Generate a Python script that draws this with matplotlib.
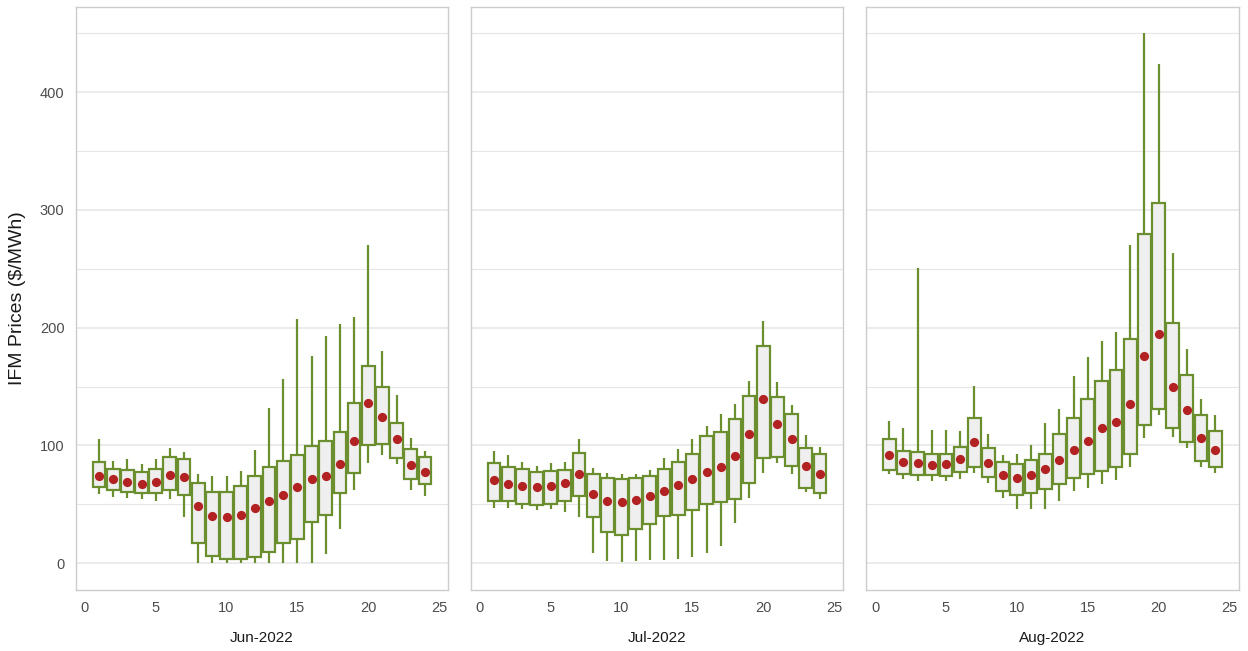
import matplotlib
matplotlib.use("Agg")
import matplotlib.pyplot as plt
import numpy as np

plt.rcParams['font.family'] = ['Liberation Sans', 'DejaVu Sans']

hours = list(range(1, 25))
months = ["Jun-2022", "Jul-2022", "Aug-2022"]

# Jun-2022
jun_whislo = [59, 56, 55, 54, 53, 54, 39, 0, 0, 0, 0, 0, 0, 0, 0, 0, 8, 29, 62, 85, 92, 84, 62, 57]
jun_q1 = [65, 62, 60, 59.5, 59.5, 62, 58, 17, 5.7, 3.7, 3.4, 5, 9, 17, 20, 35, 41, 59.5, 76.5, 100.6, 101, 89, 71, 67]
jun_mean = [74, 71, 68.5, 67.5, 69, 75, 73, 48.7, 40, 39, 41, 46.5, 53, 58, 64.6, 71, 74, 84.4, 104, 136, 124, 105.7, 83.6, 77]
jun_q3 = [85.5, 80, 79, 77.6, 80, 90, 88, 68, 60, 60, 65.7, 74, 82, 87, 92, 99.7, 104, 111, 136, 167.7, 150, 119, 97, 90]
jun_whishi = [105, 87, 88, 84, 88, 98, 94, 76, 74, 74, 78, 96, 132, 156, 207, 176, 193, 203, 209, 270.5, 180, 143, 106, 95]

# Jul-2022
jul_whislo = [47, 47, 46, 45, 46, 43.6, 39.4, 8.8, 1.7, 0.6, 1.7, 2.5, 2.5, 3, 5.4, 8.8, 14.4, 34.3, 55, 76.5, 84.7, 75.6, 60, 54]
jul_q1 = [53, 52.7, 50, 49.3, 50, 52.7, 57, 38.8, 26.6, 24, 29, 33, 40, 40.8, 45, 50, 51.6, 54.4, 67.7, 89, 90, 82.7, 63.5, 59.8]
jul_mean = [70.5, 67, 65.7, 64.3, 65.4, 67.7, 76, 59, 53, 52, 53.5, 57, 61, 66, 71.4, 77.6, 82, 91, 110, 139, 118.4, 105, 82.4, 75.4]
jul_q3 = [85, 82, 80, 77, 78.5, 79, 93.8, 76, 72.5, 71, 72.5, 74, 79.6, 86, 93, 108, 111, 122, 142, 184, 141, 127, 97.5, 93]
jul_whishi = [95.5, 92, 86, 82.7, 84.7, 86, 105, 81, 76.8, 76, 76, 79, 89, 97, 105, 116.7, 126.6, 135, 155, 206, 154, 134, 109, 98.3]

# Aug-2022
aug_whislo = [75.6, 71.7, 70, 70, 69.7, 71.7, 76.5, 68.4, 55.4, 46.3, 46.3, 46.3, 52.8, 61, 63.5, 67.4, 70.7, 82, 106.5, 126, 107, 97.7, 81.4, 76.5]
aug_q1 = [79, 75.6, 74.6, 74.6, 73.6, 77, 81.4, 73.3, 61, 57.7, 59.3, 63, 66.8, 72.3, 75.6, 78, 81.4, 92.8, 117, 131, 115, 103, 87, 81.4]
aug_mean = [92, 86, 85, 83.7, 84.4, 88, 102.6, 84.7, 75, 72.3, 75, 79.5, 87.6, 96, 104, 114.7, 119.5, 135, 176, 195, 150, 130, 106, 96.4]
aug_q3 = [105, 95, 94.5, 92.5, 93, 98.4, 123.5, 97.4, 86, 84, 87.6, 92.5, 110, 123.5, 139, 154.4, 164, 190, 280, 306, 204, 159.6, 125.4, 112]
aug_whishi = [121, 115, 250.5, 113, 113, 112, 150.5, 110, 92, 92.5, 100, 119, 131, 158.6, 175, 188.6, 196, 270, 450, 424, 263.5, 182, 139, 126]

data = [
    (jun_whislo, jun_q1, jun_mean, jun_q3, jun_whishi),
    (jul_whislo, jul_q1, jul_mean, jul_q3, jul_whishi),
    (aug_whislo, aug_q1, aug_mean, aug_q3, aug_whishi),
]

y_ticks = [0, 100, 200, 300, 400]
y_minor = [50, 150, 250, 350, 450]
x_ticks = [0, 5, 10, 15, 20, 25]

edge = "#6B8E2E"
fill = "#EFEFEF"
dot = "#B22222"
grid_c = "#E6E6E6"

fig = plt.figure(figsize=(12.48, 6.51), dpi=100)
lefts = [75.7, 470.7, 866.0]
W, H = 1248, 651
axw = 372.5
bottom_px, top_px = 589.5, 7.0

for i, (lo, q1, mn, q3, hi) in enumerate(data):
    ax = fig.add_axes([lefts[i] / W, (H - bottom_px) / H, axw / W, (bottom_px - top_px) / H])
    x = np.array(hours)
    lo = np.array(lo); q1 = np.array(q1); q3 = np.array(q3); hi = np.array(hi); mn = np.array(mn)
    ax.vlines(x, lo, q1, color=edge, lw=1.6, zorder=2)
    ax.vlines(x, q3, hi, color=edge, lw=1.6, zorder=2)
    ax.bar(x, q3 - q1, bottom=q1, width=0.9, color=fill, edgecolor=edge, linewidth=1.6, zorder=3)
    ax.scatter(x, mn, s=44, color=dot, zorder=4, linewidths=0)

    ax.set_xlim(-0.645, 25.645)
    ax.set_ylim(-22.5, 472.5)
    ax.set_xticks(x_ticks)
    ax.set_yticks(y_ticks)
    ax.set_yticks(y_minor, minor=True)
    ax.grid(axis="y", which="major", color=grid_c, lw=1.1, zorder=0)
    ax.grid(axis="y", which="minor", color=grid_c, lw=0.8, zorder=0)
    ax.set_axisbelow(True)
    ax.tick_params(which="both", length=0, labelsize=10.5, labelcolor="#4D4D4D", pad=8)
    for s in ax.spines.values():
        s.set_color("#CCCCCC")
        s.set_linewidth(1.0)
    if i == 0:
        ax.set_ylabel("IFM Prices ($/MWh)", fontsize=14, color="#1A1A1A", labelpad=10)
    else:
        ax.set_yticklabels([])
    ax.set_xlabel(months[i], fontsize=11, color="#1A1A1A", labelpad=12)

fig.savefig("out.png", dpi=100)
